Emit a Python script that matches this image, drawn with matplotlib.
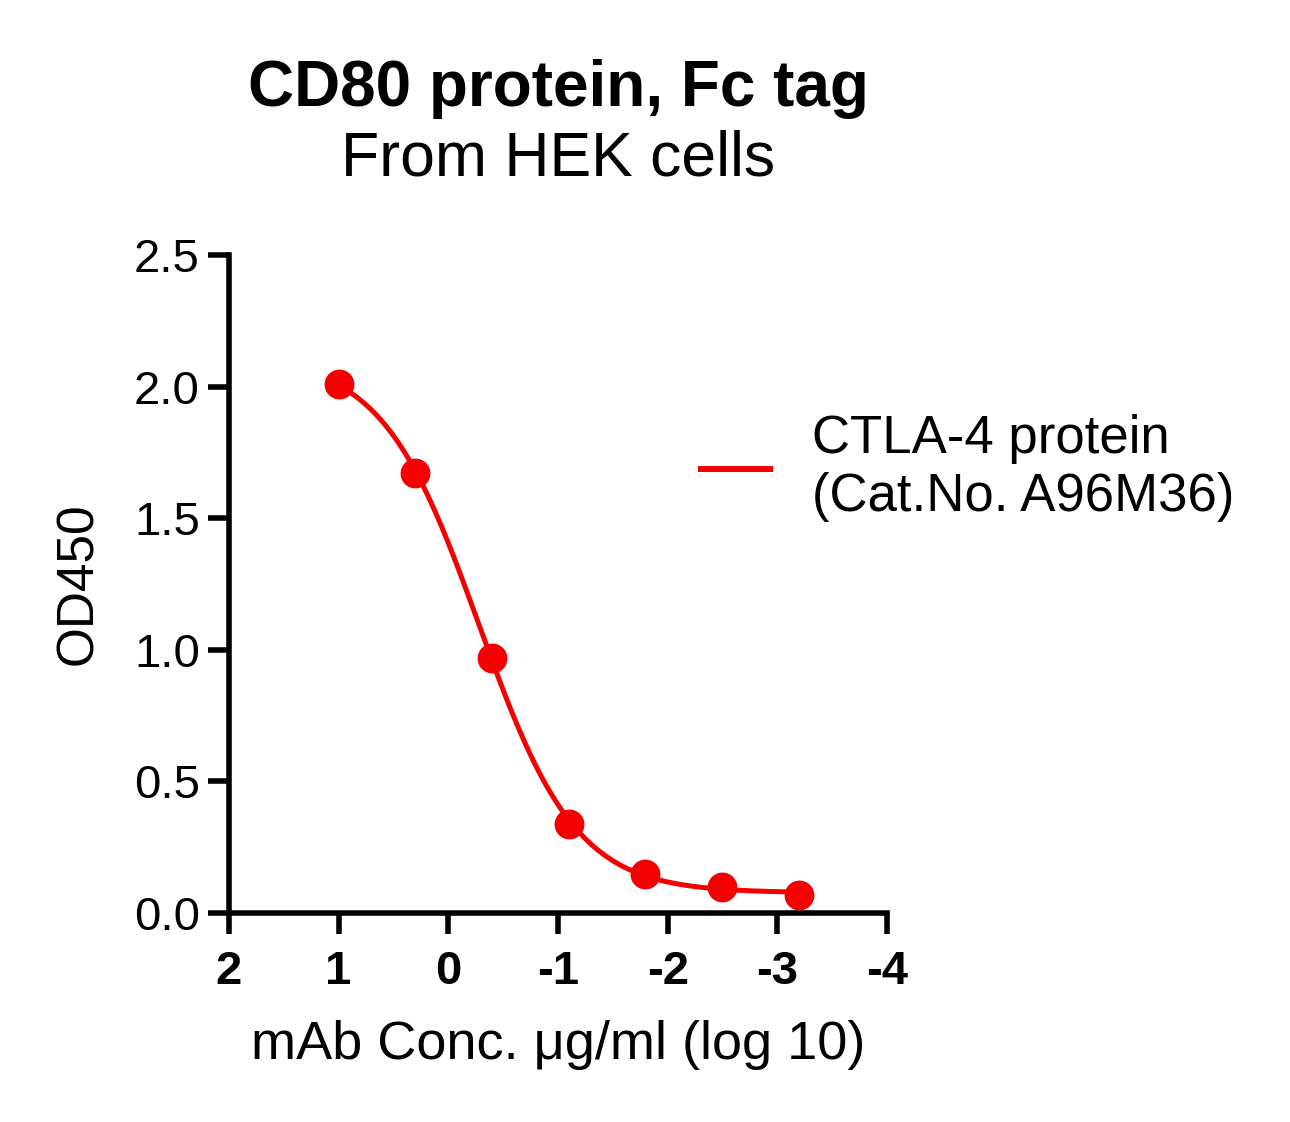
import numpy as np
import matplotlib
matplotlib.use("Agg")
import matplotlib.pyplot as plt
from matplotlib.lines import Line2D

plt.rcParams['font.family'] = ['Liberation Sans', 'DejaVu Sans']

# ---- data ----
log_conc = [1.0, 0.301, -0.398, -1.097, -1.796, -2.495, -3.194]
od450 = [2.01, 1.67, 0.97, 0.34, 0.15, 0.10, 0.07]
series_label = "CTLA-4 protein\n(Cat.No. A96M36)"
x_ticks = [2, 1, 0, -1, -2, -3, -4]
y_ticks = [0.0, 0.5, 1.0, 1.5, 2.0, 2.5]

# ---- 4PL fit (grid search on EC50/hill, linear solve for top/bottom) ----
xd = np.array(log_conc)
yd = np.array(od450)
best = None
for c in np.linspace(-1.5, 1.0, 251):
    for h in np.linspace(0.4, 2.5, 211):
        s = 1.0 / (1.0 + 10 ** (h * (c - xd)))
        A = np.vstack([np.ones_like(s), s]).T
        coef, *_ = np.linalg.lstsq(A, yd, rcond=None)
        r = np.sum((A @ coef - yd) ** 2)
        if best is None or r < best[0]:
            best = (r, c, h, coef)
_, c_fit, h_fit, (b_fit, span_fit) = best
xs = np.linspace(max(log_conc), min(log_conc), 300)
ys = b_fit + span_fit / (1.0 + 10 ** (h_fit * (c_fit - xs)))

# ---- figure ----
W, H = 1290, 1122
fig = plt.figure(figsize=(W / 100, H / 100), dpi=100)
ax = fig.add_axes([229 / W, 1 - 913 / H, (887 - 229) / W, (913 - 255) / H])

red = '#f50000'
ax.plot(xs, ys, color=red, lw=3.6, solid_capstyle='round', zorder=3)
ax.plot(log_conc, od450, 'o', color=red, ms=20.5, mec=red, zorder=4, clip_on=False)

ax.set_xlim(2, -4)
ax.set_ylim(0, 2.5)
ax.set_xticks(x_ticks)
ax.set_xticklabels([str(t) for t in x_ticks])
ax.set_yticks(y_ticks)
ax.set_yticklabels([f"{t:.1f}" for t in y_ticks])

for side in ['top', 'right']:
    ax.spines[side].set_visible(False)
for side in ['left', 'bottom']:
    ax.spines[side].set_linewidth(4.0)
    ax.spines[side].set_capstyle('projecting')

ax.tick_params(axis='both', direction='out', length=15, width=4.0, colors='black')
ax.tick_params(axis='y', labelsize=34, pad=6)
ax.tick_params(axis='x', labelsize=34, pad=12)
for lab in ax.get_xticklabels():
    lab.set_fontweight('bold')

ax.set_xlabel("mAb Conc. \u03bcg/ml (log 10)", fontsize=39, labelpad=18)
ax.set_ylabel("OD450", fontsize=37, labelpad=22)

cx = (229 + 887) / 2 / W
fig.text(cx, 1 - 106 / H, "CD80 protein, Fc tag", ha='center', va='baseline',
         fontsize=46, fontweight='bold')
fig.text(cx, 1 - 176 / H, "From HEK cells", ha='center', va='baseline', fontsize=45)

handle = Line2D([], [], color=red, lw=4.3)
leg = ax.legend([handle], [series_label], loc='center left',
                bbox_to_anchor=(701 / W, 1 - 468 / H), bbox_transform=fig.transFigure,
                frameon=False, fontsize=38, handlelength=1.3, handletextpad=0.8,
                borderaxespad=0, borderpad=0)

fig.savefig("out.png", dpi=100, facecolor='white')
